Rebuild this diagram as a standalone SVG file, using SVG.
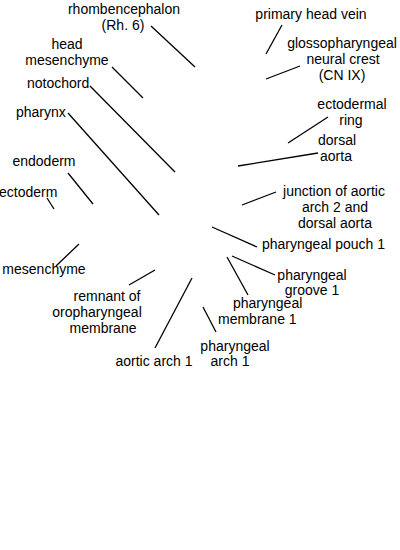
<svg xmlns="http://www.w3.org/2000/svg" width="400" height="550" viewBox="0 0 400 550">
<style>
text{font-family:"Liberation Sans",Arial,sans-serif;font-size:14px;fill:#000}
.m{text-anchor:middle}
line{stroke:#000;stroke-width:1.3}
</style>
<rect width="400" height="550" fill="#fff"/>
<g id="connectors">
<line x1="151" y1="26" x2="195" y2="67"/>
<line x1="112" y1="67" x2="143" y2="98"/>
<line x1="90" y1="86" x2="175" y2="172"/>
<line x1="68" y1="113" x2="159" y2="215"/>
<line x1="282" y1="25" x2="266" y2="54"/>
<line x1="300" y1="66" x2="266" y2="79"/>
<line x1="328" y1="117" x2="288" y2="143"/>
<line x1="318" y1="153" x2="238" y2="166"/>
<line x1="276" y1="192" x2="242" y2="205"/>
<line x1="212" y1="227" x2="257" y2="247"/>
<line x1="232" y1="256" x2="275" y2="275"/>
<line x1="227" y1="257" x2="248" y2="295"/>
<line x1="203" y1="307" x2="216" y2="332"/>
<line x1="192" y1="278" x2="155" y2="348"/>
<line x1="155" y1="270" x2="129" y2="285"/>
<line x1="79" y1="244" x2="56" y2="266"/>
<line x1="47" y1="198" x2="54" y2="209"/>
<line x1="68" y1="173" x2="93" y2="204"/>
</g>
<g id="rhombencephalon"><text class="m" x="124" y="14">rhombencephalon</text><text class="m" x="123" y="30">(Rh. 6)</text></g>
<g id="head-mesenchyme"><text class="m" x="67" y="49">head</text><text class="m" x="67" y="65">mesenchyme</text></g>
<g id="notochord"><text x="27" y="88">notochord</text></g>
<g id="pharynx"><text x="16" y="117">pharynx</text></g>
<g id="primary-head-vein"><text class="m" x="311" y="19">primary head vein</text></g>
<g id="glossopharyngeal"><text class="m" x="342" y="48">glossopharyngeal</text><text class="m" x="343" y="64">neural crest</text><text class="m" x="342" y="80">(CN IX)</text></g>
<g id="ectodermal-ring"><text class="m" x="352" y="109">ectodermal</text><text class="m" x="351" y="125">ring</text></g>
<g id="dorsal-aorta"><text class="m" x="337" y="145">dorsal</text><text class="m" x="336" y="161">aorta</text></g>
<g id="junction"><text class="m" x="334" y="196">junction of aortic</text><text class="m" x="335" y="212">arch 2 and</text><text class="m" x="335" y="228">dorsal aorta</text></g>
<g id="pharyngeal-pouch-1"><text x="262" y="249">pharyngeal pouch 1</text></g>
<g id="pharyngeal-groove-1"><text class="m" x="312" y="280">pharyngeal</text><text class="m" x="312" y="295">groove 1</text></g>
<g id="pharyngeal-membrane-1"><text x="233" y="308">pharyngeal</text><text x="218" y="324">membrane 1</text></g>
<g id="pharyngeal-arch-1"><text class="m" x="235" y="351">pharyngeal</text><text class="m" x="230" y="366">arch 1</text></g>
<g id="aortic-arch-1"><text class="m" x="154" y="366">aortic arch 1</text></g>
<g id="remnant"><text class="m" x="107" y="301">remnant of</text><text class="m" x="97" y="317">oropharyngeal</text><text class="m" x="103" y="333">membrane</text></g>
<g id="mesenchyme"><text class="m" x="44" y="274">mesenchyme</text></g>
<g id="endoderm"><text class="m" x="44" y="166">endoderm</text></g>
<g id="ectoderm"><text x="-1" y="197">ectoderm</text></g>
</svg>
